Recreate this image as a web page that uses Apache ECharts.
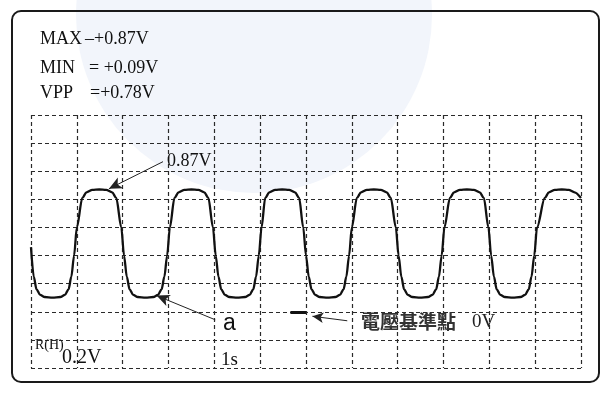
<!DOCTYPE html>
<html>
<head>
<meta charset="utf-8">
<script src="https://cdn.jsdelivr.net/npm/echarts@6/dist/echarts.min.js"></script>
<style>
html,body{margin:0;padding:0;background:#fff;}
#chart{width:611px;height:395px;}
</style>
</head>
<body>
<div id="chart"></div>
<script>
// ---- data (time in divisions = s, voltage in V) ----
var timeS = [
  0.00,
  0.06, 0.12, 0.20, 0.30, 0.47, 0.64, 0.74, 0.82, 0.88, 0.94, 1.00,
  1.12, 1.21, 1.34, 1.49, 1.64, 1.77, 1.86,
  1.97, 2.03, 2.09, 2.15, 2.23, 2.33, 2.50, 2.67, 2.77, 2.85, 2.91, 2.97, 3.03,
  3.13, 3.22, 3.35, 3.50, 3.65, 3.78, 3.87,
  3.97, 4.03, 4.09, 4.15, 4.23, 4.33, 4.50, 4.67, 4.77, 4.85, 4.91, 4.97, 5.03,
  5.11, 5.20, 5.33, 5.48, 5.63, 5.76, 5.85,
  5.94, 6.00, 6.06, 6.12, 6.20, 6.30, 6.47, 6.64, 6.74, 6.82, 6.88, 6.94, 7.00,
  7.11, 7.20, 7.33, 7.48, 7.63, 7.76, 7.85,
  7.96, 8.02, 8.08, 8.14, 8.22, 8.32, 8.49, 8.66, 8.76, 8.84, 8.90, 8.96, 9.02,
  9.14, 9.23, 9.36, 9.51, 9.66, 9.79, 9.88,
  9.98, 10.04, 10.10, 10.16, 10.24, 10.34, 10.51, 10.68, 10.78, 10.86, 10.92, 10.98, 11.04,
  11.21, 11.30, 11.43, 11.58, 11.73, 11.86, 12.00
];
var voltV = [
  0.46,
  0.25, 0.16, 0.12, 0.105, 0.10, 0.105, 0.12, 0.16, 0.25, 0.40, 0.60,
  0.81, 0.85, 0.867, 0.87, 0.867, 0.85, 0.81,
  0.60, 0.40, 0.25, 0.16, 0.12, 0.105, 0.10, 0.105, 0.12, 0.16, 0.25, 0.40, 0.60,
  0.81, 0.85, 0.867, 0.87, 0.867, 0.85, 0.81,
  0.60, 0.40, 0.25, 0.16, 0.12, 0.105, 0.10, 0.105, 0.12, 0.16, 0.25, 0.40, 0.60,
  0.81, 0.85, 0.867, 0.87, 0.867, 0.85, 0.81,
  0.60, 0.40, 0.25, 0.16, 0.12, 0.105, 0.10, 0.105, 0.12, 0.16, 0.25, 0.40, 0.60,
  0.81, 0.85, 0.867, 0.87, 0.867, 0.85, 0.81,
  0.60, 0.40, 0.25, 0.16, 0.12, 0.105, 0.10, 0.105, 0.12, 0.16, 0.25, 0.40, 0.60,
  0.81, 0.85, 0.867, 0.87, 0.867, 0.85, 0.81,
  0.60, 0.40, 0.25, 0.16, 0.12, 0.105, 0.10, 0.105, 0.12, 0.16, 0.25, 0.40, 0.60,
  0.81, 0.85, 0.867, 0.87, 0.867, 0.85, 0.81
];
var xRange = [0, 12];         // 12 horizontal divisions, 1 s/div
var yRange = [-0.4, 1.4];     // 0.2 V/div, 0 V two divisions above bottom
var readoutNames = ['MAX', 'MIN', 'VPP'];
var readoutValues = ['–+0.87V', '= +0.09V', '=+0.78V'];
var peakLabel = '0.87V';
var pointLabel = 'a';
var zeroLabel = '電壓基準點';
var zeroValue = '0V';
var chLabel = 'R(H)';
var voltsDiv = '0.2V';
var timeDiv = '1s';
// annotation anchors in data units
var peakArrow = [[2.88, 1.068], [1.70, 0.875]];
var aArrow = [[4.02, -0.057], [2.74, 0.115]];
var zeroArrow = [[6.90, -0.064], [6.14, -0.032]];
var zeroMark = [[5.66, 0], [6.00, 0]];

var waveData = timeS.map(function (t, i) { return [t, voltV[i]]; });

var chart = echarts.init(document.getElementById('chart'), null, {renderer: 'canvas'});
var serif = '"Liberation Serif", "DejaVu Serif", serif';
var gridLine = {color: '#2a2a2a', type: [4, 3], width: 1.2};

var option = {
  animation: false,
  backgroundColor: '#ffffff',
  grid: {left: 31, right: 30, top: 115, height: 253, containLabel: false},
  xAxis: {
    type: 'value', min: xRange[0], max: xRange[1], interval: 1,
    axisLine: {show: false}, axisTick: {show: false}, axisLabel: {show: false},
    splitLine: {show: true, lineStyle: gridLine}
  },
  yAxis: {
    type: 'value', min: yRange[0], max: yRange[1], interval: 0.2,
    axisLine: {show: false}, axisTick: {show: false}, axisLabel: {show: false},
    splitLine: {show: true, lineStyle: gridLine}
  },
  series: [{
    type: 'line',
    data: waveData,
    showSymbol: false,
    smooth: 0.3,
    smoothMonotone: 'x',
    lineStyle: {color: '#111', width: 2.3},
    z: 5,
    markLine: {
      silent: true,
      animation: false,
      label: {show: false},
      emphasis: {disabled: true},
      data: [
        [{coord: peakArrow[0], symbol: 'none', lineStyle: {color: '#222', width: 1, type: 'solid'}},
         {coord: peakArrow[1], symbol: 'arrow', symbolSize: [9, 13]}],
        [{coord: aArrow[0], symbol: 'none', lineStyle: {color: '#222', width: 1, type: 'solid'}},
         {coord: aArrow[1], symbol: 'arrow', symbolSize: [9, 13]}],
        [{coord: zeroArrow[0], symbol: 'none', lineStyle: {color: '#222', width: 1, type: 'solid'}},
         {coord: zeroArrow[1], symbol: 'arrow', symbolSize: [8, 11]}],
        [{coord: zeroMark[0], symbol: 'none', lineStyle: {color: '#111', width: 3, type: 'solid'}},
         {coord: zeroMark[1], symbol: 'none'}]
      ]
    }
  }],
  graphic: [
    {type: 'circle', z: -10, silent: true, shape: {cx: 254, cy: 15, r: 178},
     style: {fill: '#f2f5fb'}},
    {type: 'rect', z: 10, silent: true, shape: {x: 12, y: 11, width: 587, height: 371, r: 9},
     style: {fill: 'none', stroke: '#1a1a1a', lineWidth: 2}},
    {type: 'text', z: 10, x: 40, y: 39, style: {text: readoutNames[0], font: '18px ' + serif, fill: '#111', textVerticalAlign: 'middle'}},
    {type: 'text', z: 10, x: 40, y: 68, style: {text: readoutNames[1], font: '18px ' + serif, fill: '#111', textVerticalAlign: 'middle'}},
    {type: 'text', z: 10, x: 40, y: 93, style: {text: readoutNames[2], font: '18px ' + serif, fill: '#111', textVerticalAlign: 'middle'}},
    {type: 'text', z: 10, x: 85, y: 39, style: {text: readoutValues[0], font: '18px ' + serif, fill: '#111', textVerticalAlign: 'middle'}},
    {type: 'text', z: 10, x: 89, y: 68, style: {text: readoutValues[1], font: '18px ' + serif, fill: '#111', textVerticalAlign: 'middle'}},
    {type: 'text', z: 10, x: 90, y: 93, style: {text: readoutValues[2], font: '18px ' + serif, fill: '#111', textVerticalAlign: 'middle'}},
    {type: 'text', z: 10, x: 167, y: 161, style: {text: peakLabel, font: '18px ' + serif, fill: '#111', textVerticalAlign: 'middle'}},
    {type: 'text', z: 10, x: 223, y: 324, style: {text: pointLabel, font: '23px "Liberation Sans", Arial, sans-serif', fill: '#111', textVerticalAlign: 'middle'}},
    {type: 'text', z: 10, x: 361, y: 322, style: {text: zeroLabel, font: 'bold 19px "Noto Sans CJK TC", "Noto Sans CJK SC", sans-serif', fill: '#333', textVerticalAlign: 'middle'}},
    {type: 'text', z: 10, x: 472, y: 322, style: {text: zeroValue, font: '19px ' + serif, fill: '#222', textVerticalAlign: 'middle'}},
    {type: 'text', z: 10, x: 35, y: 345, style: {text: chLabel, font: '14px ' + serif, fill: '#111', textVerticalAlign: 'middle'}},
    {type: 'text', z: 10, x: 62, y: 358, style: {text: voltsDiv, font: '20px ' + serif, fill: '#111', textVerticalAlign: 'middle'}},
    {type: 'text', z: 10, x: 221, y: 360, style: {text: timeDiv, font: '19px ' + serif, fill: '#111', textVerticalAlign: 'middle'}}
  ]
};
chart.setOption(option);
</script>
</body>
</html>
